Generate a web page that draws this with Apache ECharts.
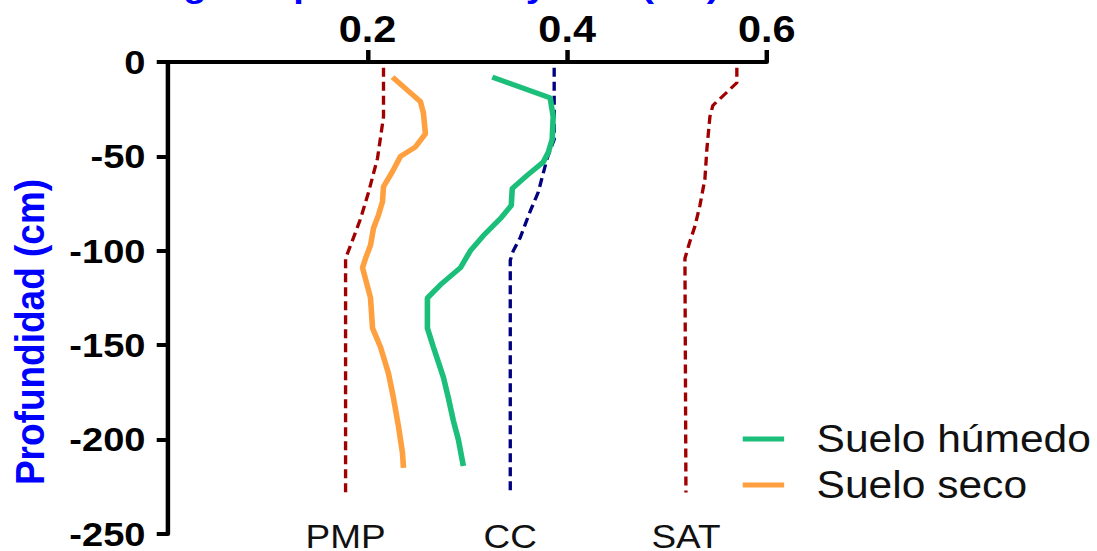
<!DOCTYPE html>
<html>
<head>
<meta charset="utf-8">
<script src="https://cdn.jsdelivr.net/npm/echarts@6/dist/echarts.min.js"></script>
<style>
html,body{margin:0;padding:0;background:#fff;overflow:hidden;}
#c{width:980px;height:551px;transform:scaleX(1.1194);transform-origin:0 0;}
</style>
</head>
<body>
<div id="c"></div>
<script>
// ---- data (volumetric water content v/v vs depth cm) ----
const X_TICKS = [0.2, 0.4, 0.6];
const Y_TICKS = [0, -50, -100, -150, -200, -250];

const PMP_VAL   = [0.216, 0.216, 0.210, 0.201, 0.193, 0.186, 0.178, 0.178];
const PMP_DEPTH = [-3, -29, -51, -69, -83, -93, -104, -228];

const CC_VAL    = [0.387, 0.387, 0.380, 0.371, 0.363, 0.353, 0.346, 0.343, 0.343];
const CC_DEPTH  = [-3, -41, -51, -69, -79, -93, -100, -105, -228];

const SAT_VAL   = [0.570, 0.570, 0.560, 0.546, 0.543, 0.540, 0.538, 0.533, 0.528, 0.523, 0.518, 0.519];
const SAT_DEPTH = [-3, -11, -16, -23, -29, -46, -62, -76, -87, -95, -104, -228];

const HUMEDO_VAL   = [0.325, 0.383, 0.386, 0.385, 0.381, 0.376, 0.360, 0.345, 0.344, 0.333, 0.316, 0.303, 0.293, 0.273, 0.260, 0.260, 0.266, 0.276, 0.281, 0.286, 0.291, 0.296];
const HUMEDO_DEPTH = [-8, -19, -29, -41, -48, -53, -60, -67, -76, -83, -92, -100, -109, -118, -125, -141, -151, -167, -178, -190, -200, -214];

const SECO_VAL   = [0.225, 0.240, 0.253, 0.256, 0.258, 0.248, 0.233, 0.225, 0.216, 0.215, 0.211, 0.206, 0.203, 0.198, 0.195, 0.203, 0.205, 0.213, 0.221, 0.226, 0.231, 0.235, 0.236];
const SECO_DEPTH = [-8, -15, -21, -27, -38, -45, -50, -58, -66, -74, -81, -88, -97, -104, -109, -125, -141, -151, -165, -178, -193, -207, -215];

const REF_LABELS = ['PMP', 'CC', 'SAT'];
const SERIES_NAMES = ['Suelo húmedo', 'Suelo seco'];
const TITLE = 'Nivel de agua a profundidad y SAT (v/v)';
const Y_NAME = 'Profundidad (cm)';

const FONT = '"Liberation Sans", Arial, sans-serif';

function pairs(vals, depths, endLabel) {
  return vals.map((v, i) => {
    const item = { value: [v, depths[i]] };
    if (endLabel && i === vals.length - 1) {
      item.label = { show: true, formatter: endLabel };
    }
    return item;
  });
}

function refSeries(name, vals, depths, color) {
  return {
    name: name, type: 'line',
    data: pairs(vals, depths, name),
    symbol: 'circle', symbolSize: 0, showSymbol: true,
    lineStyle: { color: color, width: 3, type: [9, 5] },
    itemStyle: { color: color },
    label: { show: false, position: 'bottom', distance: 27, fontSize: 33, color: '#111', fontFamily: FONT },
    emphasis: { disabled: true },
    silent: true, z: 2
  };
}

const chart = echarts.init(document.getElementById('c'), null, { renderer: 'svg' });
chart.setOption({
  animation: false,
  backgroundColor: '#fff',
  title: {
    text: TITLE, left: 0, top: -37,
    textStyle: { fontSize: 34, fontWeight: 'bold', color: '#0000ff', fontFamily: FONT }
  },
  grid: { left: 149, right: 295, top: 62, bottom: 13, containLabel: false },
  legend: {
    orient: 'vertical', left: 658.5, top: 415,
    data: SERIES_NAMES,
    icon: 'rect', itemWidth: 37, itemHeight: 5, itemGap: 8,
    textStyle: { fontSize: 38, color: '#111', fontFamily: FONT, padding: [0, 0, 0, 24] }
  },
  xAxis: {
    type: 'value', position: 'top', min: 0, max: 0.6, interval: 0.2,
    axisLine: { show: true, onZero: false, lineStyle: { color: '#000', width: 4 } },
    axisTick: { show: true, length: 12, customValues: X_TICKS, lineStyle: { color: '#000', width: 4 } },
    axisLabel: { fontSize: 37, fontWeight: 'bold', color: '#000', margin: 15, fontFamily: FONT,
      customValues: X_TICKS, formatter: v => v.toFixed(1) },
    splitLine: { show: false }
  },
  yAxis: {
    type: 'value', min: -250, max: 0, interval: 50,
    name: Y_NAME, nameLocation: 'middle', nameRotate: 90, nameGap: 105,
    nameTextStyle: { fontSize: 37, fontWeight: 'bold', color: '#0000ff', fontFamily: FONT, padding: [0, 68, 0, 0] },
    axisLine: { show: true, onZero: false, lineStyle: { color: '#000', width: 4 } },
    axisTick: { show: true, length: 10, customValues: Y_TICKS, lineStyle: { color: '#000', width: 4 } },
    axisLabel: { fontSize: 34, fontWeight: 'bold', color: '#000', margin: 20, fontFamily: FONT, customValues: Y_TICKS },
    splitLine: { show: false }
  },
  series: [
    refSeries(REF_LABELS[0], PMP_VAL, PMP_DEPTH, '#a00000'),
    refSeries(REF_LABELS[1], CC_VAL, CC_DEPTH, '#000080'),
    refSeries(REF_LABELS[2], SAT_VAL, SAT_DEPTH, '#a00000'),
    {
      name: SERIES_NAMES[0], type: 'line', data: pairs(HUMEDO_VAL, HUMEDO_DEPTH),
      symbol: 'none', lineStyle: { color: '#1bbf7a', width: 5 }, itemStyle: { color: '#1bbf7a' },
      emphasis: { disabled: true }, z: 3
    },
    {
      name: SERIES_NAMES[1], type: 'line', data: pairs(SECO_VAL, SECO_DEPTH),
      symbol: 'none', lineStyle: { color: '#ffa040', width: 5 }, itemStyle: { color: '#ffa040' },
      emphasis: { disabled: true }, z: 3
    }
  ]
});
</script>
</body>
</html>
